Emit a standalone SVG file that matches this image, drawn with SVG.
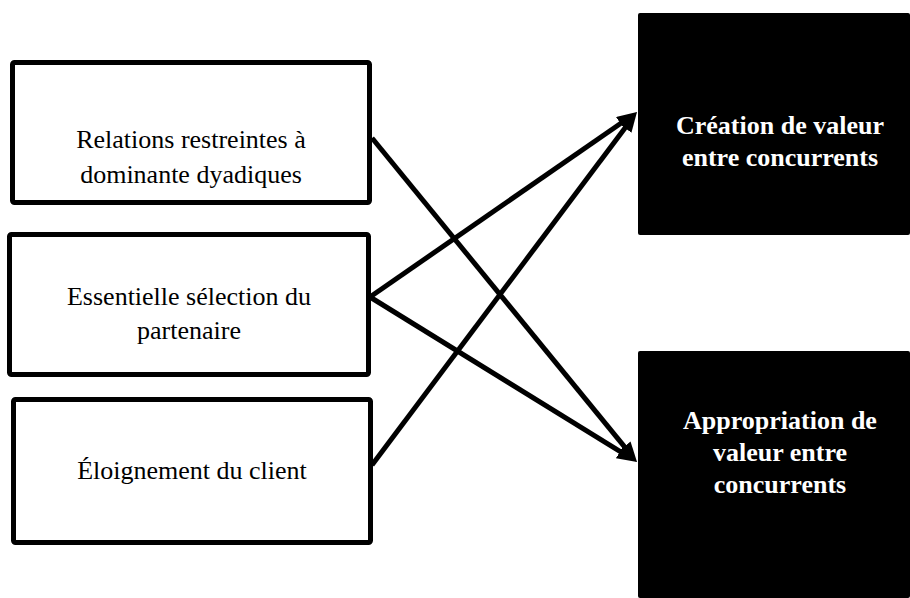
<svg xmlns="http://www.w3.org/2000/svg" width="910" height="598" viewBox="0 0 910 598">
<defs>
<style>
.src rect{fill:#fff;stroke:#000;stroke-width:5;}
.src text{font-family:"Liberation Serif","Times New Roman",serif;font-size:26px;fill:#000;text-anchor:middle;}
.dst rect{fill:#000;}
.dst text{font-family:"Liberation Serif","Times New Roman",serif;font-size:26px;font-weight:bold;fill:#fff;text-anchor:middle;}
.conn line{stroke:#000;stroke-width:5;}
</style>
<marker id="ah" markerWidth="4" markerHeight="3.2" refX="1.5" refY="1.6" orient="auto" markerUnits="strokeWidth" viewBox="0 0 4 3.2">
<path d="M0,0 L4,1.6 L0,3.2 Z" fill="#000"/>
</marker>
</defs>
<g id="n1" class="src"><rect x="12.5" y="62.5" width="357" height="140" rx="2"/><text x="191" y="148">Relations restreintes à</text><text x="191" y="183">dominante dyadiques</text></g>
<g id="n2" class="src"><rect x="9.5" y="234.5" width="359" height="140" rx="2"/><text x="189" y="305">Essentielle sélection du</text><text x="189" y="339">partenaire</text></g>
<g id="n3" class="src"><rect x="13.5" y="399.5" width="357" height="143" rx="2"/><text x="192" y="479">Éloignement du client</text></g>
<g id="n4" class="dst"><rect x="638" y="13" width="272" height="222" rx="2"/><text x="780" y="134">Création de valeur</text><text x="780" y="166">entre concurrents</text></g>
<g id="n5" class="dst"><rect x="638" y="351" width="272" height="247" rx="2"/><text x="780" y="429">Appropriation de</text><text x="780" y="461">valeur entre</text><text x="780" y="493">concurrents</text></g>
<g id="connectors" class="conn">
<line x1="372" y1="138" x2="629.1" y2="452.3" marker-end="url(#ah)"/>
<line x1="370" y1="297" x2="626.7" y2="119.2" marker-end="url(#ah)"/>
<line x1="370" y1="297" x2="626.4" y2="455.4" marker-end="url(#ah)"/>
<line x1="372" y1="465" x2="629.5" y2="122" marker-end="url(#ah)"/>
</g>
</svg>
